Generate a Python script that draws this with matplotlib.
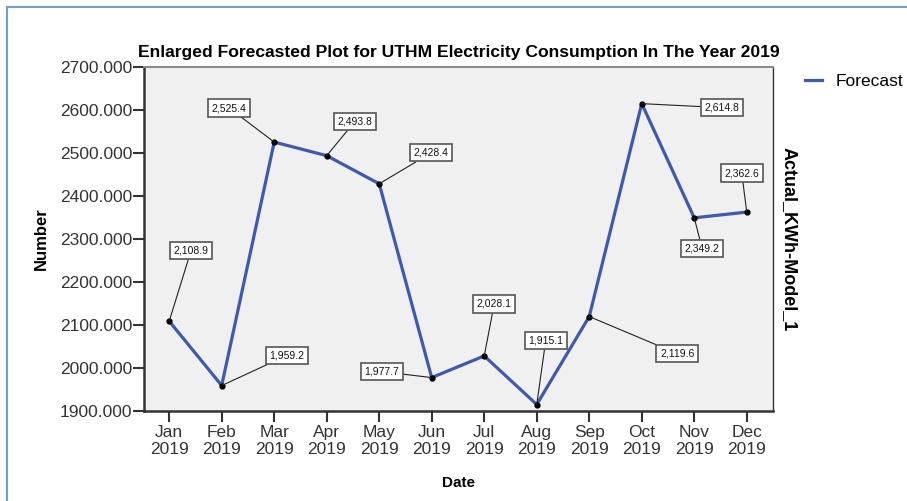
import matplotlib
matplotlib.use("Agg")
import matplotlib.pyplot as plt
from matplotlib.patches import Rectangle

# dados
meses = ["Jan\n2019", "Feb\n2019", "Mar\n2019", "Apr\n2019", "May\n2019", "Jun\n2019",
         "Jul\n2019", "Aug\n2019", "Sep\n2019", "Oct\n2019", "Nov\n2019", "Dec\n2019"]
forecast = [2108.9, 1959.2, 2525.4, 2493.8, 2428.4, 1977.7,
            2028.1, 1915.1, 2119.6, 2614.8, 2349.2, 2362.6]
yticks = [1900, 2000, 2100, 2200, 2300, 2400, 2500, 2600, 2700]

# posicao das caixas de rotulo (deslocamento em pixels a partir do ponto)
offsets = [(22, 71), (65, 30), (-45, 34), (28, 34), (52, 31), (-50, 6),
           (10, 52), (9, 64), (88, -37), (80, -4), (8, -31), (-5, 39)]

plt.rcParams['font.family'] = ['Liberation Sans', 'DejaVu Sans']

fig = plt.figure(figsize=(9.07, 5.01), dpi=100)
ax = fig.add_axes([144/907, 90/501, 629/907, 344/501])
ax.set_facecolor('#f0f0f0')

x = list(range(len(meses)))
ax.plot(x, forecast, color='#3d5aae', lw=2.3, label='Forecast', zorder=3)
ax.plot(x, forecast, 'o', color='black', ms=3.5, zorder=4)

for i, v in enumerate(forecast):
    ax.annotate(f"{v:,.1f}", xy=(i, v), xytext=offsets[i], textcoords='offset pixels',
                ha='center', va='center', fontsize=7.5, color='#111111',
                bbox=dict(boxstyle='square,pad=0.35', fc='white', ec='#555555', lw=1.2),
                arrowprops=dict(arrowstyle='-', color='#222222', lw=0.8,
                                shrinkA=0, shrinkB=0), zorder=5)

ax.set_xlim(-0.48, 11.5)
ax.set_ylim(1900, 2700)
ax.set_xticks(x)
ax.set_xticklabels(meses, fontsize=12.5, color='#333333', linespacing=1.15)
ax.set_yticks(yticks)
ax.set_yticklabels([f"{t:.3f}" for t in yticks], fontsize=12.5, color='#333333')
ax.tick_params(axis='both', length=8, width=1.5, color='#333333')
ax.tick_params(axis='y', pad=0.5)
ax.tick_params(axis='x', pad=2)

for s in ['left', 'bottom']:
    ax.spines[s].set_color('#333333')
    ax.spines[s].set_linewidth(1.8)
ax.spines['top'].set_color('#8a8a8a')
ax.spines['top'].set_linewidth(1.5)
ax.spines['right'].set_color('#333333')
ax.spines['right'].set_linewidth(1.0)

ax.set_title('Enlarged Forecasted Plot for UTHM Electricity Consumption In The Year 2019',
             fontsize=12.6, fontweight='bold', pad=7)
ax.set_ylabel('Number', fontsize=12, fontweight='bold', labelpad=8)
ax.set_xlabel('Date', fontsize=11, fontweight='bold', labelpad=14)

fig.text(789/907, 1 - 239/501, 'Actual_KWh-Model_1', rotation=-90, fontsize=13,
         fontweight='bold', ha='center', va='center')

ax.legend(loc='upper left', bbox_to_anchor=(1.04, 1.0), frameon=False, fontsize=12.5,
          handlelength=1.0, handletextpad=0.75, borderaxespad=0)

# moldura azul
fig.add_artist(Rectangle((7/907, -0.5), 2, 0.5 + 1 - 7/501, transform=fig.transFigure,
                         fill=False, ec='#6a9fd8', lw=1.5))

fig.savefig('out.png', dpi=100)
